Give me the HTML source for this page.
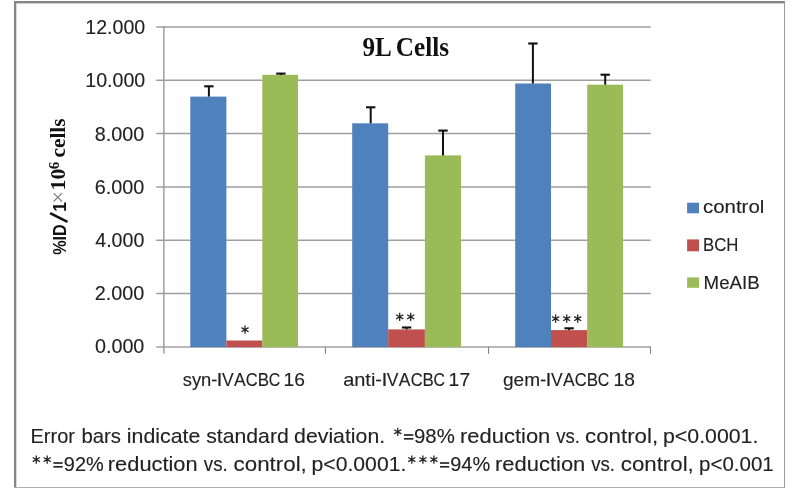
<!DOCTYPE html>
<html><head><meta charset="utf-8"><title>9L Cells</title>
<style>
html,body{margin:0;padding:0;background:#fff;}
body{width:798px;height:498px;overflow:hidden;font-family:"Liberation Sans",sans-serif;}
svg{display:block;will-change:transform;transform:translateZ(0);}
text{white-space:pre;}
</style></head><body>
<svg width="798" height="498" viewBox="0 0 798 498">
<rect x="0" y="0" width="798" height="498" fill="#fff"/>
<rect x="14" y="1" width="771" height="2.4" fill="#868686"/>
<rect x="14" y="1" width="2.3" height="487" fill="#868686"/>
<rect x="784" y="2" width="1.0" height="486" fill="#9c9c9c"/>
<rect x="14" y="487" width="771" height="1.0" fill="#adadad"/>
<text x="94.93" y="353" font-family='"Liberation Sans", sans-serif' font-size="19.8" font-weight="normal" fill="#222" text-anchor="start" textLength="49.44" lengthAdjust="spacingAndGlyphs" stroke="#222" stroke-width="0.12">0.000</text>
<line x1="156.25" y1="293.57" x2="650.8" y2="293.57" stroke="#9e9e9e" stroke-width="1.5"/>
<text x="94.7" y="300" font-family='"Liberation Sans", sans-serif' font-size="19.8" font-weight="normal" fill="#222" text-anchor="start" textLength="49.67" lengthAdjust="spacingAndGlyphs" stroke="#222" stroke-width="0.12">2.000</text>
<line x1="156.25" y1="240.23" x2="650.8" y2="240.23" stroke="#9e9e9e" stroke-width="1.5"/>
<text x="95.25" y="247" font-family='"Liberation Sans", sans-serif' font-size="19.8" font-weight="normal" fill="#222" text-anchor="start" textLength="49.12" lengthAdjust="spacingAndGlyphs" stroke="#222" stroke-width="0.12">4.000</text>
<line x1="156.25" y1="186.90" x2="650.8" y2="186.90" stroke="#9e9e9e" stroke-width="1.5"/>
<text x="94.69" y="194" font-family='"Liberation Sans", sans-serif' font-size="19.8" font-weight="normal" fill="#222" text-anchor="start" textLength="49.68" lengthAdjust="spacingAndGlyphs" stroke="#222" stroke-width="0.12">6.000</text>
<line x1="156.25" y1="133.56" x2="650.8" y2="133.56" stroke="#9e9e9e" stroke-width="1.5"/>
<text x="94.84" y="141" font-family='"Liberation Sans", sans-serif' font-size="19.8" font-weight="normal" fill="#222" text-anchor="start" textLength="49.53" lengthAdjust="spacingAndGlyphs" stroke="#222" stroke-width="0.12">8.000</text>
<line x1="156.25" y1="80.23" x2="650.8" y2="80.23" stroke="#9e9e9e" stroke-width="1.5"/>
<text x="85.31" y="87" font-family='"Liberation Sans", sans-serif' font-size="19.8" font-weight="normal" fill="#222" text-anchor="start" textLength="59.96" lengthAdjust="spacingAndGlyphs" stroke="#222" stroke-width="0.12">10.000</text>
<line x1="156.25" y1="26.90" x2="650.8" y2="26.90" stroke="#9e9e9e" stroke-width="1.5"/>
<text x="85.31" y="34" font-family='"Liberation Sans", sans-serif' font-size="19.8" font-weight="normal" fill="#222" text-anchor="start" textLength="59.96" lengthAdjust="spacingAndGlyphs" stroke="#222" stroke-width="0.12">12.000</text>
<line x1="156.25" y1="346.9" x2="651.0" y2="346.9" stroke="#a0a0a0" stroke-width="1.5"/>
<rect x="190.3" y="96.60" width="36.10" height="250.55" fill="#4f81bd"/>
<line x1="208.90" y1="86.30" x2="208.90" y2="96.60" stroke="#111" stroke-width="2"/>
<line x1="204.20" y1="86.30" x2="213.60" y2="86.30" stroke="#111" stroke-width="2.1"/>
<rect x="226.4" y="340.50" width="35.90" height="6.65" fill="#c0504d"/>
<rect x="262.3" y="74.80" width="35.70" height="272.35" fill="#9bbb59"/>
<line x1="280.90" y1="73.60" x2="280.90" y2="74.80" stroke="#111" stroke-width="2"/>
<line x1="276.20" y1="73.60" x2="285.60" y2="73.60" stroke="#111" stroke-width="2.1"/>
<rect x="352.2" y="123.30" width="36.00" height="223.85" fill="#4f81bd"/>
<line x1="370.70" y1="107.30" x2="370.70" y2="123.30" stroke="#111" stroke-width="2"/>
<line x1="366.00" y1="107.30" x2="375.40" y2="107.30" stroke="#111" stroke-width="2.1"/>
<rect x="388.2" y="329.40" width="36.70" height="17.75" fill="#c0504d"/>
<line x1="406.60" y1="327.50" x2="406.60" y2="329.40" stroke="#111" stroke-width="2"/>
<line x1="401.90" y1="327.50" x2="411.30" y2="327.50" stroke="#111" stroke-width="2.1"/>
<rect x="424.9" y="155.40" width="36.10" height="191.75" fill="#9bbb59"/>
<line x1="443.00" y1="130.60" x2="443.00" y2="155.40" stroke="#111" stroke-width="2"/>
<line x1="438.30" y1="130.60" x2="447.70" y2="130.60" stroke="#111" stroke-width="2.1"/>
<rect x="515.2" y="83.50" width="35.80" height="263.65" fill="#4f81bd"/>
<line x1="532.90" y1="43.50" x2="532.90" y2="83.50" stroke="#111" stroke-width="2"/>
<line x1="528.20" y1="43.50" x2="537.60" y2="43.50" stroke="#111" stroke-width="2.1"/>
<rect x="551.0" y="330.10" width="36.20" height="17.05" fill="#c0504d"/>
<line x1="569.10" y1="328.30" x2="569.10" y2="330.10" stroke="#111" stroke-width="2"/>
<line x1="564.40" y1="328.30" x2="573.80" y2="328.30" stroke="#111" stroke-width="2.1"/>
<rect x="587.2" y="84.70" width="35.80" height="262.45" fill="#9bbb59"/>
<line x1="605.20" y1="74.70" x2="605.20" y2="84.70" stroke="#111" stroke-width="2"/>
<line x1="600.50" y1="74.70" x2="609.90" y2="74.70" stroke="#111" stroke-width="2.1"/>
<line x1="163.85" y1="26.1" x2="163.85" y2="353.79999999999995" stroke="#a0a0a0" stroke-width="1.5"/>
<line x1="325.45" y1="346.9" x2="325.45" y2="353.79999999999995" stroke="#818181" stroke-width="1.1"/>
<line x1="488.5" y1="346.9" x2="488.5" y2="353.79999999999995" stroke="#818181" stroke-width="1.1"/>
<line x1="650.5" y1="346.9" x2="650.5" y2="353.79999999999995" stroke="#818181" stroke-width="1.1"/>
<path d="M245.0 325.59999999999997L245.0 333.8M241.43 327.65L248.57 331.75M241.43 331.75L248.57 327.65" stroke="#262626" stroke-width="1.3" fill="none"/>
<circle cx="245.0" cy="329.7" r="1.05" fill="#262626"/>
<path d="M399.7 312.7L399.7 320.90000000000003M396.13 314.75L403.27 318.85M396.13 318.85L403.27 314.75" stroke="#262626" stroke-width="1.3" fill="none"/>
<circle cx="399.7" cy="316.8" r="1.05" fill="#262626"/>
<path d="M410.7 312.7L410.7 320.90000000000003M407.13 314.75L414.27 318.85M407.13 318.85L414.27 314.75" stroke="#262626" stroke-width="1.3" fill="none"/>
<circle cx="410.7" cy="316.8" r="1.05" fill="#262626"/>
<path d="M555.6 314.59999999999997L555.6 322.8M552.03 316.65L559.17 320.75M552.03 320.75L559.17 316.65" stroke="#262626" stroke-width="1.3" fill="none"/>
<circle cx="555.6" cy="318.7" r="1.05" fill="#262626"/>
<path d="M566.7 314.59999999999997L566.7 322.8M563.13 316.65L570.27 320.75M563.13 320.75L570.27 316.65" stroke="#262626" stroke-width="1.3" fill="none"/>
<circle cx="566.7" cy="318.7" r="1.05" fill="#262626"/>
<path d="M577.7 314.59999999999997L577.7 322.8M574.13 316.65L581.27 320.75M574.13 320.75L581.27 316.65" stroke="#262626" stroke-width="1.3" fill="none"/>
<circle cx="577.7" cy="318.7" r="1.05" fill="#262626"/>
<text x="182.69" y="386" font-family='"Liberation Sans", sans-serif' font-size="18.6" font-weight="normal" fill="#222" text-anchor="start" textLength="34.73" lengthAdjust="spacingAndGlyphs" stroke="#222" stroke-width="0.12">syn-</text>
<text x="216.62" y="386" font-family='"Liberation Sans", sans-serif' font-size="18.6" font-weight="normal" fill="#222" text-anchor="start" textLength="5.96" lengthAdjust="spacingAndGlyphs" stroke="#222" stroke-width="0.12">I</text>
<text x="222.02" y="386" font-family='"Liberation Sans", sans-serif' font-size="18.6" font-weight="normal" fill="#222" text-anchor="start" textLength="11.65" lengthAdjust="spacingAndGlyphs" stroke="#222" stroke-width="0.12">V</text>
<text x="234.07" y="386" font-family='"Liberation Sans", sans-serif' font-size="18.6" font-weight="normal" fill="#222" text-anchor="start" textLength="11.67" lengthAdjust="spacingAndGlyphs" stroke="#222" stroke-width="0.12">A</text>
<text x="245.87" y="386" font-family='"Liberation Sans", sans-serif' font-size="18.6" font-weight="normal" fill="#222" text-anchor="start" textLength="11.86" lengthAdjust="spacingAndGlyphs" stroke="#222" stroke-width="0.12">C</text>
<text x="257.71" y="386" font-family='"Liberation Sans", sans-serif' font-size="18.6" font-weight="normal" fill="#222" text-anchor="start" textLength="11.28" lengthAdjust="spacingAndGlyphs" stroke="#222" stroke-width="0.12">B</text>
<text x="268.8" y="386" font-family='"Liberation Sans", sans-serif' font-size="18.6" font-weight="normal" fill="#222" text-anchor="start" textLength="11.4" lengthAdjust="spacingAndGlyphs" stroke="#222" stroke-width="0.12">C</text>
<text x="283.63" y="386" font-family='"Liberation Sans", sans-serif' font-size="18.6" font-weight="normal" fill="#222" text-anchor="start" textLength="21.41" lengthAdjust="spacingAndGlyphs" stroke="#222" stroke-width="0.12">16</text>
<text x="343.15" y="386" font-family='"Liberation Sans", sans-serif' font-size="18.6" font-weight="normal" fill="#222" text-anchor="start" textLength="38.84" lengthAdjust="spacingAndGlyphs" stroke="#222" stroke-width="0.12">anti-</text>
<text x="381.42" y="386" font-family='"Liberation Sans", sans-serif' font-size="18.6" font-weight="normal" fill="#222" text-anchor="start" textLength="5.96" lengthAdjust="spacingAndGlyphs" stroke="#222" stroke-width="0.12">I</text>
<text x="386.82" y="386" font-family='"Liberation Sans", sans-serif' font-size="18.6" font-weight="normal" fill="#222" text-anchor="start" textLength="11.65" lengthAdjust="spacingAndGlyphs" stroke="#222" stroke-width="0.12">V</text>
<text x="398.87" y="386" font-family='"Liberation Sans", sans-serif' font-size="18.6" font-weight="normal" fill="#222" text-anchor="start" textLength="11.67" lengthAdjust="spacingAndGlyphs" stroke="#222" stroke-width="0.12">A</text>
<text x="410.67" y="386" font-family='"Liberation Sans", sans-serif' font-size="18.6" font-weight="normal" fill="#222" text-anchor="start" textLength="11.86" lengthAdjust="spacingAndGlyphs" stroke="#222" stroke-width="0.12">C</text>
<text x="422.51" y="386" font-family='"Liberation Sans", sans-serif' font-size="18.6" font-weight="normal" fill="#222" text-anchor="start" textLength="11.28" lengthAdjust="spacingAndGlyphs" stroke="#222" stroke-width="0.12">B</text>
<text x="433.6" y="386" font-family='"Liberation Sans", sans-serif' font-size="18.6" font-weight="normal" fill="#222" text-anchor="start" textLength="11.4" lengthAdjust="spacingAndGlyphs" stroke="#222" stroke-width="0.12">C</text>
<text x="448.62" y="386" font-family='"Liberation Sans", sans-serif' font-size="18.6" font-weight="normal" fill="#222" text-anchor="start" textLength="21.55" lengthAdjust="spacingAndGlyphs" stroke="#222" stroke-width="0.12">17</text>
<text x="503.0" y="386" font-family='"Liberation Sans", sans-serif' font-size="18.6" font-weight="normal" fill="#222" text-anchor="start" textLength="43.45" lengthAdjust="spacingAndGlyphs" stroke="#222" stroke-width="0.12">gem-</text>
<text x="545.62" y="386" font-family='"Liberation Sans", sans-serif' font-size="18.6" font-weight="normal" fill="#222" text-anchor="start" textLength="5.96" lengthAdjust="spacingAndGlyphs" stroke="#222" stroke-width="0.12">I</text>
<text x="551.02" y="386" font-family='"Liberation Sans", sans-serif' font-size="18.6" font-weight="normal" fill="#222" text-anchor="start" textLength="11.65" lengthAdjust="spacingAndGlyphs" stroke="#222" stroke-width="0.12">V</text>
<text x="563.07" y="386" font-family='"Liberation Sans", sans-serif' font-size="18.6" font-weight="normal" fill="#222" text-anchor="start" textLength="11.67" lengthAdjust="spacingAndGlyphs" stroke="#222" stroke-width="0.12">A</text>
<text x="574.87" y="386" font-family='"Liberation Sans", sans-serif' font-size="18.6" font-weight="normal" fill="#222" text-anchor="start" textLength="11.86" lengthAdjust="spacingAndGlyphs" stroke="#222" stroke-width="0.12">C</text>
<text x="586.71" y="386" font-family='"Liberation Sans", sans-serif' font-size="18.6" font-weight="normal" fill="#222" text-anchor="start" textLength="11.28" lengthAdjust="spacingAndGlyphs" stroke="#222" stroke-width="0.12">B</text>
<text x="597.8" y="386" font-family='"Liberation Sans", sans-serif' font-size="18.6" font-weight="normal" fill="#222" text-anchor="start" textLength="11.4" lengthAdjust="spacingAndGlyphs" stroke="#222" stroke-width="0.12">C</text>
<text x="613.63" y="386" font-family='"Liberation Sans", sans-serif' font-size="18.6" font-weight="normal" fill="#222" text-anchor="start" textLength="21.4" lengthAdjust="spacingAndGlyphs" stroke="#222" stroke-width="0.12">18</text>
<text x="362.41" y="56" font-family='"Liberation Serif", serif' font-size="26.5" font-weight="bold" fill="#111" text-anchor="start" textLength="29.34" lengthAdjust="spacingAndGlyphs">9L</text>
<text x="395.77" y="56" font-family='"Liberation Serif", serif' font-size="26.5" font-weight="bold" fill="#111" text-anchor="start" textLength="53.25" lengthAdjust="spacingAndGlyphs">Cells</text>
<rect x="687.1" y="202.7" width="11.9" height="10.6" fill="#4f81bd"/>
<text x="702.93" y="213" font-family='"Liberation Sans", sans-serif' font-size="18.7" font-weight="normal" fill="#222" text-anchor="start" textLength="61.44" lengthAdjust="spacingAndGlyphs" stroke="#222" stroke-width="0.12">control</text>
<rect x="687.1" y="239.4" width="11.9" height="11.9" fill="#c0504d"/>
<text x="703.03" y="251" font-family='"Liberation Sans", sans-serif' font-size="18.7" font-weight="normal" fill="#222" text-anchor="start" textLength="35.34" lengthAdjust="spacingAndGlyphs" stroke="#222" stroke-width="0.12">BCH</text>
<rect x="687.1" y="277.4" width="11.9" height="10.4" fill="#9bbb59"/>
<text x="703.57" y="289" font-family='"Liberation Sans", sans-serif' font-size="18.7" font-weight="normal" fill="#222" text-anchor="start" textLength="56.12" lengthAdjust="spacingAndGlyphs" stroke="#222" stroke-width="0.12">MeAIB</text>
<g transform="translate(65.5,254.8) rotate(-90)">
<text x="0.0" y="0" font-family='"Liberation Sans", sans-serif' font-size="18" font-weight="bold" fill="#111" text-anchor="start" textLength="30.6" lengthAdjust="spacingAndGlyphs">%ID</text>
<path d="M32.9 2.0L41.7 -15.4" stroke="#111" stroke-width="2.5" fill="none"/>
<text x="43.0" y="0" font-family='"Liberation Sans", sans-serif' font-size="18" font-weight="bold" fill="#111" text-anchor="start" textLength="9.6" lengthAdjust="spacingAndGlyphs">1</text>
<path d="M53.3 -11.9L61.7 -3.5M61.7 -11.9L53.3 -3.5" stroke="#7a7a7a" stroke-width="1.1" fill="none"/>
<text x="64.37" y="-0.2" font-family='"Liberation Serif", serif' font-size="20" font-weight="bold" fill="#111" text-anchor="start" textLength="21.66" lengthAdjust="spacingAndGlyphs">10</text>
<text x="85.68" y="-6.9" font-family='"Liberation Serif", serif' font-size="14.2" font-weight="bold" fill="#111" text-anchor="start" textLength="7.56" lengthAdjust="spacingAndGlyphs">6</text>
<text x="97.37" y="-0.2" font-family='"Liberation Serif", serif' font-size="21.6" font-weight="bold" fill="#111" text-anchor="start" textLength="38.95" lengthAdjust="spacingAndGlyphs">cells</text>
</g>
<text x="30.46" y="443" font-family='"Liberation Sans", sans-serif' font-size="20.4" font-weight="normal" fill="#222" text-anchor="start" textLength="44.47" lengthAdjust="spacingAndGlyphs" stroke="#222" stroke-width="0.12">Error</text>
<text x="81.39" y="443" font-family='"Liberation Sans", sans-serif' font-size="20.4" font-weight="normal" fill="#222" text-anchor="start" textLength="39.54" lengthAdjust="spacingAndGlyphs" stroke="#222" stroke-width="0.12">bars</text>
<text x="126.87" y="443" font-family='"Liberation Sans", sans-serif' font-size="20.4" font-weight="normal" fill="#222" text-anchor="start" textLength="73.58" lengthAdjust="spacingAndGlyphs" stroke="#222" stroke-width="0.12">indicate</text>
<text x="206.21" y="443" font-family='"Liberation Sans", sans-serif' font-size="20.4" font-weight="normal" fill="#222" text-anchor="start" textLength="82.56" lengthAdjust="spacingAndGlyphs" stroke="#222" stroke-width="0.12">standard</text>
<text x="294.11" y="443" font-family='"Liberation Sans", sans-serif' font-size="20.4" font-weight="normal" fill="#222" text-anchor="start" textLength="91.03" lengthAdjust="spacingAndGlyphs" stroke="#222" stroke-width="0.12">deviation.</text>
<line x1="404.0" y1="435.00" x2="413.4" y2="435.00" stroke="#262626" stroke-width="1.7"/>
<line x1="404.0" y1="438.80" x2="413.4" y2="438.80" stroke="#262626" stroke-width="1.7"/>
<text x="414.04" y="443" font-family='"Liberation Sans", sans-serif' font-size="20.4" font-weight="normal" fill="#222" text-anchor="start" textLength="40.78" lengthAdjust="spacingAndGlyphs" stroke="#222" stroke-width="0.12">98%</text>
<text x="460.04" y="443" font-family='"Liberation Sans", sans-serif' font-size="20.4" font-weight="normal" fill="#222" text-anchor="start" textLength="90.28" lengthAdjust="spacingAndGlyphs" stroke="#222" stroke-width="0.12">reduction</text>
<text x="556.14" y="443" font-family='"Liberation Sans", sans-serif' font-size="20.4" font-weight="normal" fill="#222" text-anchor="start" textLength="23.76" lengthAdjust="spacingAndGlyphs" stroke="#222" stroke-width="0.12">vs.</text>
<text x="585.05" y="443" font-family='"Liberation Sans", sans-serif' font-size="20.4" font-weight="normal" fill="#222" text-anchor="start" textLength="73.05" lengthAdjust="spacingAndGlyphs" stroke="#222" stroke-width="0.12">control,</text>
<text x="663.03" y="443" font-family='"Liberation Sans", sans-serif' font-size="20.4" font-weight="normal" fill="#222" text-anchor="start" textLength="95.32" lengthAdjust="spacingAndGlyphs" stroke="#222" stroke-width="0.12">p&lt;0.0001.</text>
<path d="M397.8 427.7L397.8 435.90000000000003M394.23 429.75L401.37 433.85M394.23 433.85L401.37 429.75" stroke="#262626" stroke-width="1.3" fill="none"/>
<circle cx="397.8" cy="431.8" r="1.05" fill="#262626"/>
<line x1="53.4" y1="463.00" x2="62.7" y2="463.00" stroke="#262626" stroke-width="1.7"/>
<line x1="53.4" y1="466.80" x2="62.7" y2="466.80" stroke="#262626" stroke-width="1.7"/>
<text x="63.86" y="471" font-family='"Liberation Sans", sans-serif' font-size="20.4" font-weight="normal" fill="#222" text-anchor="start" textLength="39.95" lengthAdjust="spacingAndGlyphs" stroke="#222" stroke-width="0.12">92%</text>
<text x="107.85" y="471" font-family='"Liberation Sans", sans-serif' font-size="20.4" font-weight="normal" fill="#222" text-anchor="start" textLength="89.77" lengthAdjust="spacingAndGlyphs" stroke="#222" stroke-width="0.12">reduction</text>
<text x="203.84" y="471" font-family='"Liberation Sans", sans-serif' font-size="20.4" font-weight="normal" fill="#222" text-anchor="start" textLength="23.87" lengthAdjust="spacingAndGlyphs" stroke="#222" stroke-width="0.12">vs.</text>
<text x="233.55" y="471" font-family='"Liberation Sans", sans-serif' font-size="20.4" font-weight="normal" fill="#222" text-anchor="start" textLength="73.26" lengthAdjust="spacingAndGlyphs" stroke="#222" stroke-width="0.12">control,</text>
<text x="311.54" y="471" font-family='"Liberation Sans", sans-serif' font-size="20.4" font-weight="normal" fill="#222" text-anchor="start" textLength="94.8" lengthAdjust="spacingAndGlyphs" stroke="#222" stroke-width="0.12">p&lt;0.0001.</text>
<line x1="440.0" y1="463.00" x2="449.2" y2="463.00" stroke="#262626" stroke-width="1.7"/>
<line x1="440.0" y1="466.80" x2="449.2" y2="466.80" stroke="#262626" stroke-width="1.7"/>
<text x="450.26" y="471" font-family='"Liberation Sans", sans-serif' font-size="20.4" font-weight="normal" fill="#222" text-anchor="start" textLength="39.95" lengthAdjust="spacingAndGlyphs" stroke="#222" stroke-width="0.12">94%</text>
<text x="495.04" y="471" font-family='"Liberation Sans", sans-serif' font-size="20.4" font-weight="normal" fill="#222" text-anchor="start" textLength="90.28" lengthAdjust="spacingAndGlyphs" stroke="#222" stroke-width="0.12">reduction</text>
<text x="591.14" y="471" font-family='"Liberation Sans", sans-serif' font-size="20.4" font-weight="normal" fill="#222" text-anchor="start" textLength="23.76" lengthAdjust="spacingAndGlyphs" stroke="#222" stroke-width="0.12">vs.</text>
<text x="620.75" y="471" font-family='"Liberation Sans", sans-serif' font-size="20.4" font-weight="normal" fill="#222" text-anchor="start" textLength="73.05" lengthAdjust="spacingAndGlyphs" stroke="#222" stroke-width="0.12">control,</text>
<text x="699.08" y="471" font-family='"Liberation Sans", sans-serif' font-size="20.4" font-weight="normal" fill="#222" text-anchor="start" textLength="74.62" lengthAdjust="spacingAndGlyphs" stroke="#222" stroke-width="0.12">p&lt;0.001</text>
<path d="M36.3 455.5L36.3 463.70000000000005M32.73 457.55L39.87 461.65M32.73 461.65L39.87 457.55" stroke="#262626" stroke-width="1.3" fill="none"/>
<circle cx="36.3" cy="459.6" r="1.05" fill="#262626"/>
<path d="M47.2 455.5L47.2 463.70000000000005M43.63 457.55L50.77 461.65M43.63 461.65L50.77 457.55" stroke="#262626" stroke-width="1.3" fill="none"/>
<circle cx="47.2" cy="459.6" r="1.05" fill="#262626"/>
<path d="M411.8 455.5L411.8 463.70000000000005M408.23 457.55L415.37 461.65M408.23 461.65L415.37 457.55" stroke="#262626" stroke-width="1.3" fill="none"/>
<circle cx="411.8" cy="459.6" r="1.05" fill="#262626"/>
<path d="M422.9 455.5L422.9 463.70000000000005M419.33 457.55L426.47 461.65M419.33 461.65L426.47 457.55" stroke="#262626" stroke-width="1.3" fill="none"/>
<circle cx="422.9" cy="459.6" r="1.05" fill="#262626"/>
<path d="M433.9 455.5L433.9 463.70000000000005M430.33 457.55L437.47 461.65M430.33 461.65L437.47 457.55" stroke="#262626" stroke-width="1.3" fill="none"/>
<circle cx="433.9" cy="459.6" r="1.05" fill="#262626"/>
</svg>
</body></html>
